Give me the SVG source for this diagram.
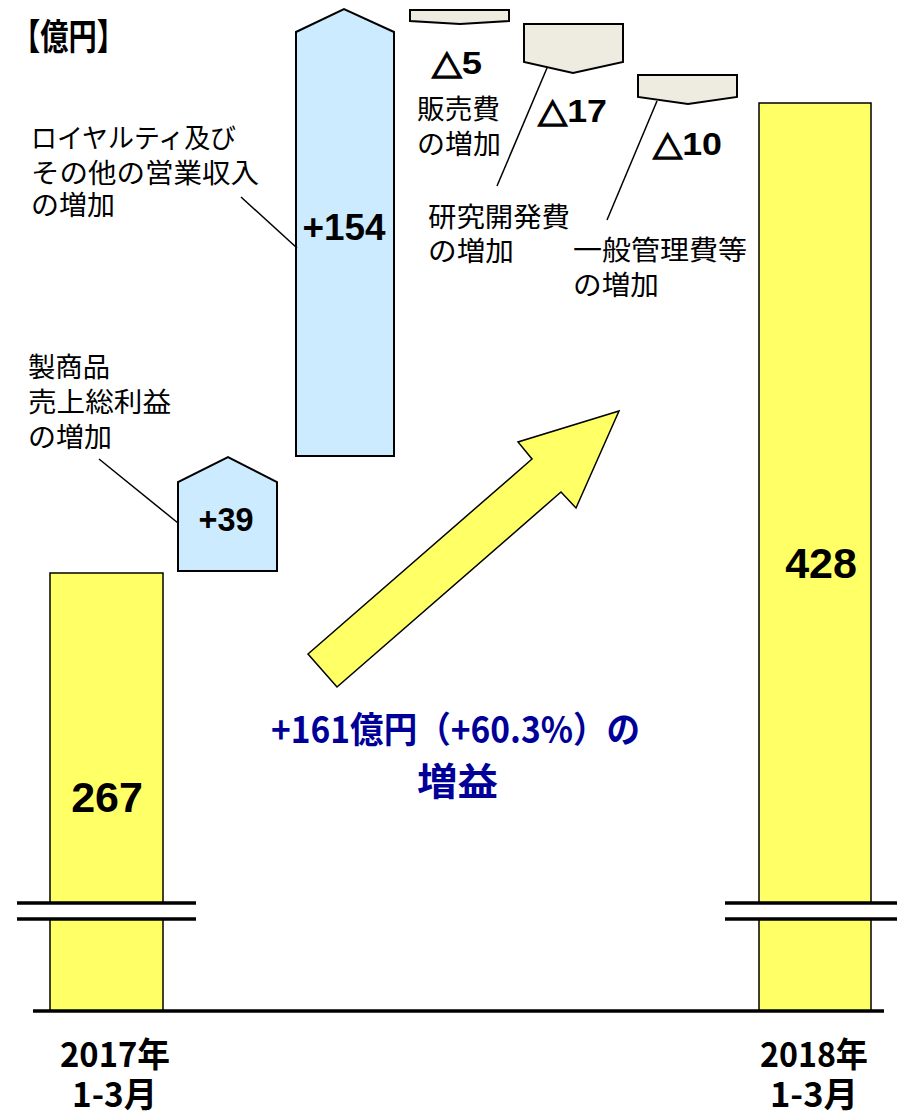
<svg xmlns="http://www.w3.org/2000/svg" width="897" height="1112" viewBox="0 0 897 1112">
<style>
.bar{fill:#FFFF66;stroke:#000;stroke-width:1.5}
.up{fill:#CCEBFF;stroke:#000;stroke-width:2}
.dn{fill:#EEECE1;stroke:#000;stroke-width:2}
.lead{stroke:#000;stroke-width:1.5;fill:none}
.brk{stroke:#000;stroke-width:3.5}
.lbl{font-family:"Noto Sans CJK JP","Noto Sans",sans-serif;font-size:27px;fill:#000}
.bl{font-family:"Noto Sans CJK JP","Noto Sans",sans-serif;font-weight:bold;fill:#000}
.num{font-family:"Liberation Sans",Arial,sans-serif;font-weight:bold;fill:#000;text-anchor:middle}
.dl{font-family:"Liberation Sans",Arial,sans-serif;font-weight:bold;font-size:32px;fill:#000}
.tri{font-family:"DejaVu Sans",sans-serif;font-weight:bold;font-size:34px;stroke:#000;stroke-width:1.2}
.blue{font-family:"Noto Sans CJK JP","Noto Sans",sans-serif;font-weight:bold;fill:#000099}
</style>
<rect width="897" height="1112" fill="#fff"/>

<text class="bl" x="12" y="50" font-size="36" textLength="113" lengthAdjust="spacingAndGlyphs">【億円】</text>

<g id="bar2017">
<rect class="bar" x="50" y="573" width="113" height="438"/>
<text class="num" x="107" y="812" font-size="43">267</text>
</g>

<g id="bar2018">
<rect class="bar" x="759" y="103" width="112" height="908"/>
<text class="num" x="821" y="578" font-size="43">428</text>
</g>

<g id="breaks">
<rect x="10" y="903" width="190" height="16" fill="#fff"/>
<rect x="722" y="903" width="175" height="16" fill="#fff"/>
<line class="brk" x1="17" y1="903" x2="196" y2="903"/>
<line class="brk" x1="17" y1="919" x2="196" y2="919"/>
<line class="brk" x1="725" y1="903" x2="897" y2="903"/>
<line class="brk" x1="725" y1="919" x2="897" y2="919"/>
</g>

<line id="axis" class="brk" x1="33" y1="1011" x2="884" y2="1011"/>

<g id="gross">
<polygon class="up" points="178,571 178,482 228,457 277,482 277,571"/>
<text class="num" x="226" y="531" font-size="33" textLength="55" lengthAdjust="spacingAndGlyphs">+39</text>
<text class="lbl" x="28" y="377" textLength="82" lengthAdjust="spacingAndGlyphs">製商品</text>
<text class="lbl" x="28" y="412" textLength="143" lengthAdjust="spacingAndGlyphs">売上総利益</text>
<text class="lbl" x="28" y="447" textLength="84" lengthAdjust="spacingAndGlyphs">の増加</text>
</g>

<g id="royalty">
<polygon class="up" points="296,456 296,32 344,9 394,32 394,456"/>
<text class="num" x="344" y="240" font-size="37" textLength="83" lengthAdjust="spacingAndGlyphs">+154</text>
<text class="lbl" x="31" y="148" textLength="205" lengthAdjust="spacingAndGlyphs">ロイヤルティ及び</text>
<text class="lbl" x="31" y="183" textLength="228" lengthAdjust="spacingAndGlyphs">その他の営業収入</text>
<text class="lbl" x="31" y="215" textLength="84" lengthAdjust="spacingAndGlyphs">の増加</text>
</g>

<g id="sales">
<polygon class="dn" points="410,10 509,10 509,21 460,24 410,21"/>
<text class="dl" x="432" y="74" textLength="50" lengthAdjust="spacingAndGlyphs"><tspan class="tri">△</tspan>5</text>
<text class="lbl" x="417" y="119" textLength="83" lengthAdjust="spacingAndGlyphs">販売費</text>
<text class="lbl" x="417" y="154" textLength="84" lengthAdjust="spacingAndGlyphs">の増加</text>
</g>

<g id="rnd">
<polygon class="dn" points="524,24 623,24 623,62 573,73 524,62"/>
<text class="dl" x="538" y="122" textLength="69" lengthAdjust="spacingAndGlyphs"><tspan class="tri">△</tspan>17</text>
<text class="lbl" x="428" y="227" textLength="142" lengthAdjust="spacingAndGlyphs">研究開発費</text>
<text class="lbl" x="428" y="261" textLength="86" lengthAdjust="spacingAndGlyphs">の増加</text>
</g>

<g id="ga">
<polygon class="dn" points="638,75 737,75 737,97 688,104 638,97"/>
<text class="dl" x="653" y="155" textLength="69" lengthAdjust="spacingAndGlyphs"><tspan class="tri">△</tspan>10</text>
<text class="lbl" x="573" y="260" textLength="174" lengthAdjust="spacingAndGlyphs">一般管理費等</text>
<text class="lbl" x="573" y="295" textLength="86" lengthAdjust="spacingAndGlyphs">の増加</text>
</g>

<g id="connectors">
<line class="lead" x1="99" y1="459" x2="178" y2="523"/>
<line class="lead" x1="241" y1="197" x2="297" y2="248"/>
<line class="lead" x1="547" y1="68" x2="497" y2="186"/>
<line class="lead" x1="657" y1="101" x2="607" y2="220"/>
</g>

<g id="growth">
<polygon class="bar" stroke-width="2" points="308,654 532,459 518,442 619,411 576,508 561,492 337,687"/>
<text class="blue" x="271" y="743" font-size="36" textLength="369" lengthAdjust="spacingAndGlyphs">+161億円（+60.3%）の</text>
<text class="blue" x="417" y="795" font-size="38" textLength="81" lengthAdjust="spacingAndGlyphs">増益</text>
</g>

<g id="xlabels">
<text class="bl" x="60" y="1067" font-size="34" textLength="110" lengthAdjust="spacingAndGlyphs">2017年</text>
<text class="bl" x="72" y="1107" font-size="34" textLength="85" lengthAdjust="spacingAndGlyphs">1-3月</text>
<text class="bl" x="760" y="1067" font-size="34" textLength="108" lengthAdjust="spacingAndGlyphs">2018年</text>
<text class="bl" x="770" y="1107" font-size="34" textLength="88" lengthAdjust="spacingAndGlyphs">1-3月</text>
</g>
</svg>
